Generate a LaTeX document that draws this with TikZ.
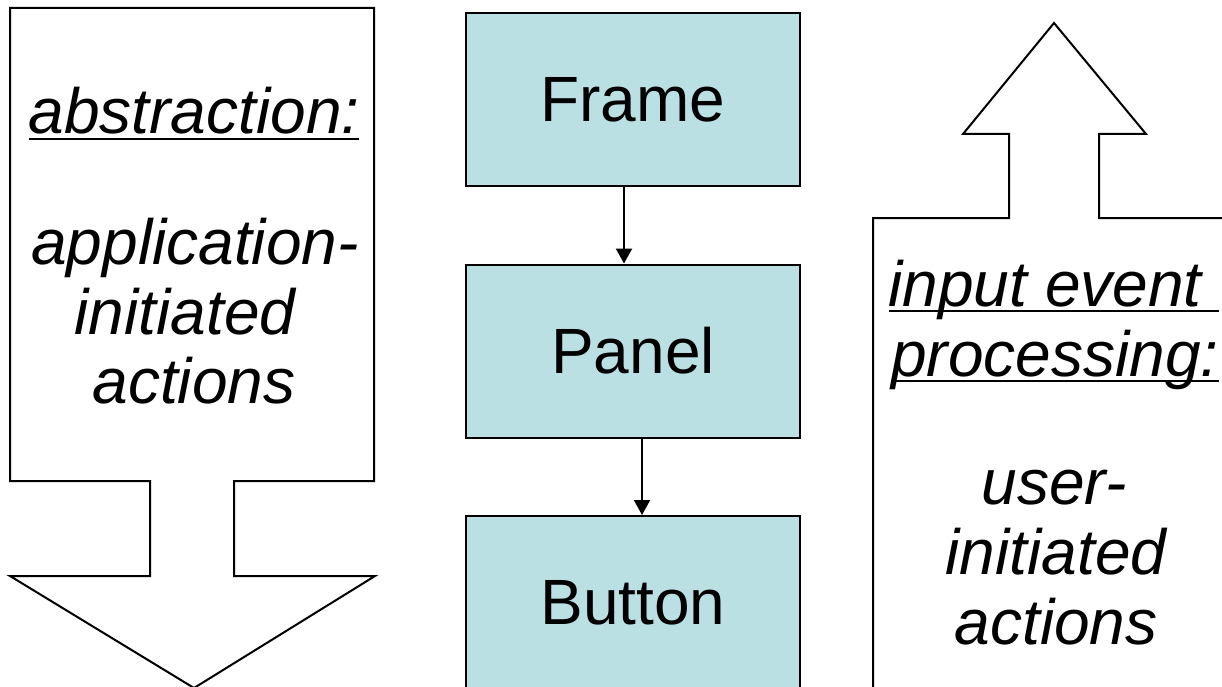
\documentclass[tikz,border=0pt]{standalone}
\usepackage{fontspec}
\setmainfont{Liberation Sans}
\usetikzlibrary{arrows.meta}
\definecolor{boxfill}{RGB}{187,224,227}
\newcommand\ulx[1]{\setbox0\hbox{#1}\rlap{\rule[-0.1em]{\wd0}{0.045em}}\box0}
\tikzset{
  outline/.style={draw=black, line width=2pt, line join=miter},
  compbox/.style={draw=black, line width=2pt, fill=boxfill, minimum width=334pt,
    minimum height=173pt, inner sep=0pt, font=\fontsize{64}{70}\selectfont},
  linetext/.style={anchor=base, inner sep=0pt, font=\fontsize{64}{70}\selectfont\itshape},
  conn/.style={line width=2pt, -{Triangle[width=16pt,length=15pt]}}
}
\begin{document}
\begin{tikzpicture}[x=1pt,y=-1pt]
\useasboundingbox (0,0) rectangle (1222,687);
\clip (0,0) rectangle (1222,687);
% left down arrow
\draw[outline] (10,8) -- (374,8) -- (374,481) -- (234,481) -- (234,576) -- (375,576)
  -- (194,688) -- (10,576) -- (150,576) -- (150,481) -- (10,481) -- cycle;
% right up arrow
\draw[outline] (873,700) -- (873,218) -- (1009,218) -- (1009,134) -- (963,134)
  -- (1054,23) -- (1146,134) -- (1099,134) -- (1099,218) -- (1240,218);
% component boxes
\node[compbox] (frame) at (633,99.5) {Frame};
\node[compbox] (panel) at (633,351) {Panel};
\node[compbox] (button) at (633,602.5) {Button};
\draw[conn] ([xshift=-9pt]frame.south) -- ([xshift=-9pt]panel.north);
\draw[conn] ([xshift=9pt]panel.south) -- ([xshift=9pt]button.north);
% left texts
\node[linetext] (l1) at (194,134) {\ulx{abstraction:}};
\node[linetext] (l2) at (195,264) {application-};
\node[linetext] (l3) at (185,334) {initiated};
\node[linetext] (l4) at (194,403) {actions};
% right texts
\node[linetext] (r1) at (1054,306) {\ulx{input event\ }};
\node[linetext] (r2) at (1055,376) {\ulx{processing:}};
\node[linetext] (r3) at (1054,504) {user-};
\node[linetext] (r4) at (1056,574) {initiated};
\node[linetext] (r5) at (1056,644) {actions};
\end{tikzpicture}
\end{document}
